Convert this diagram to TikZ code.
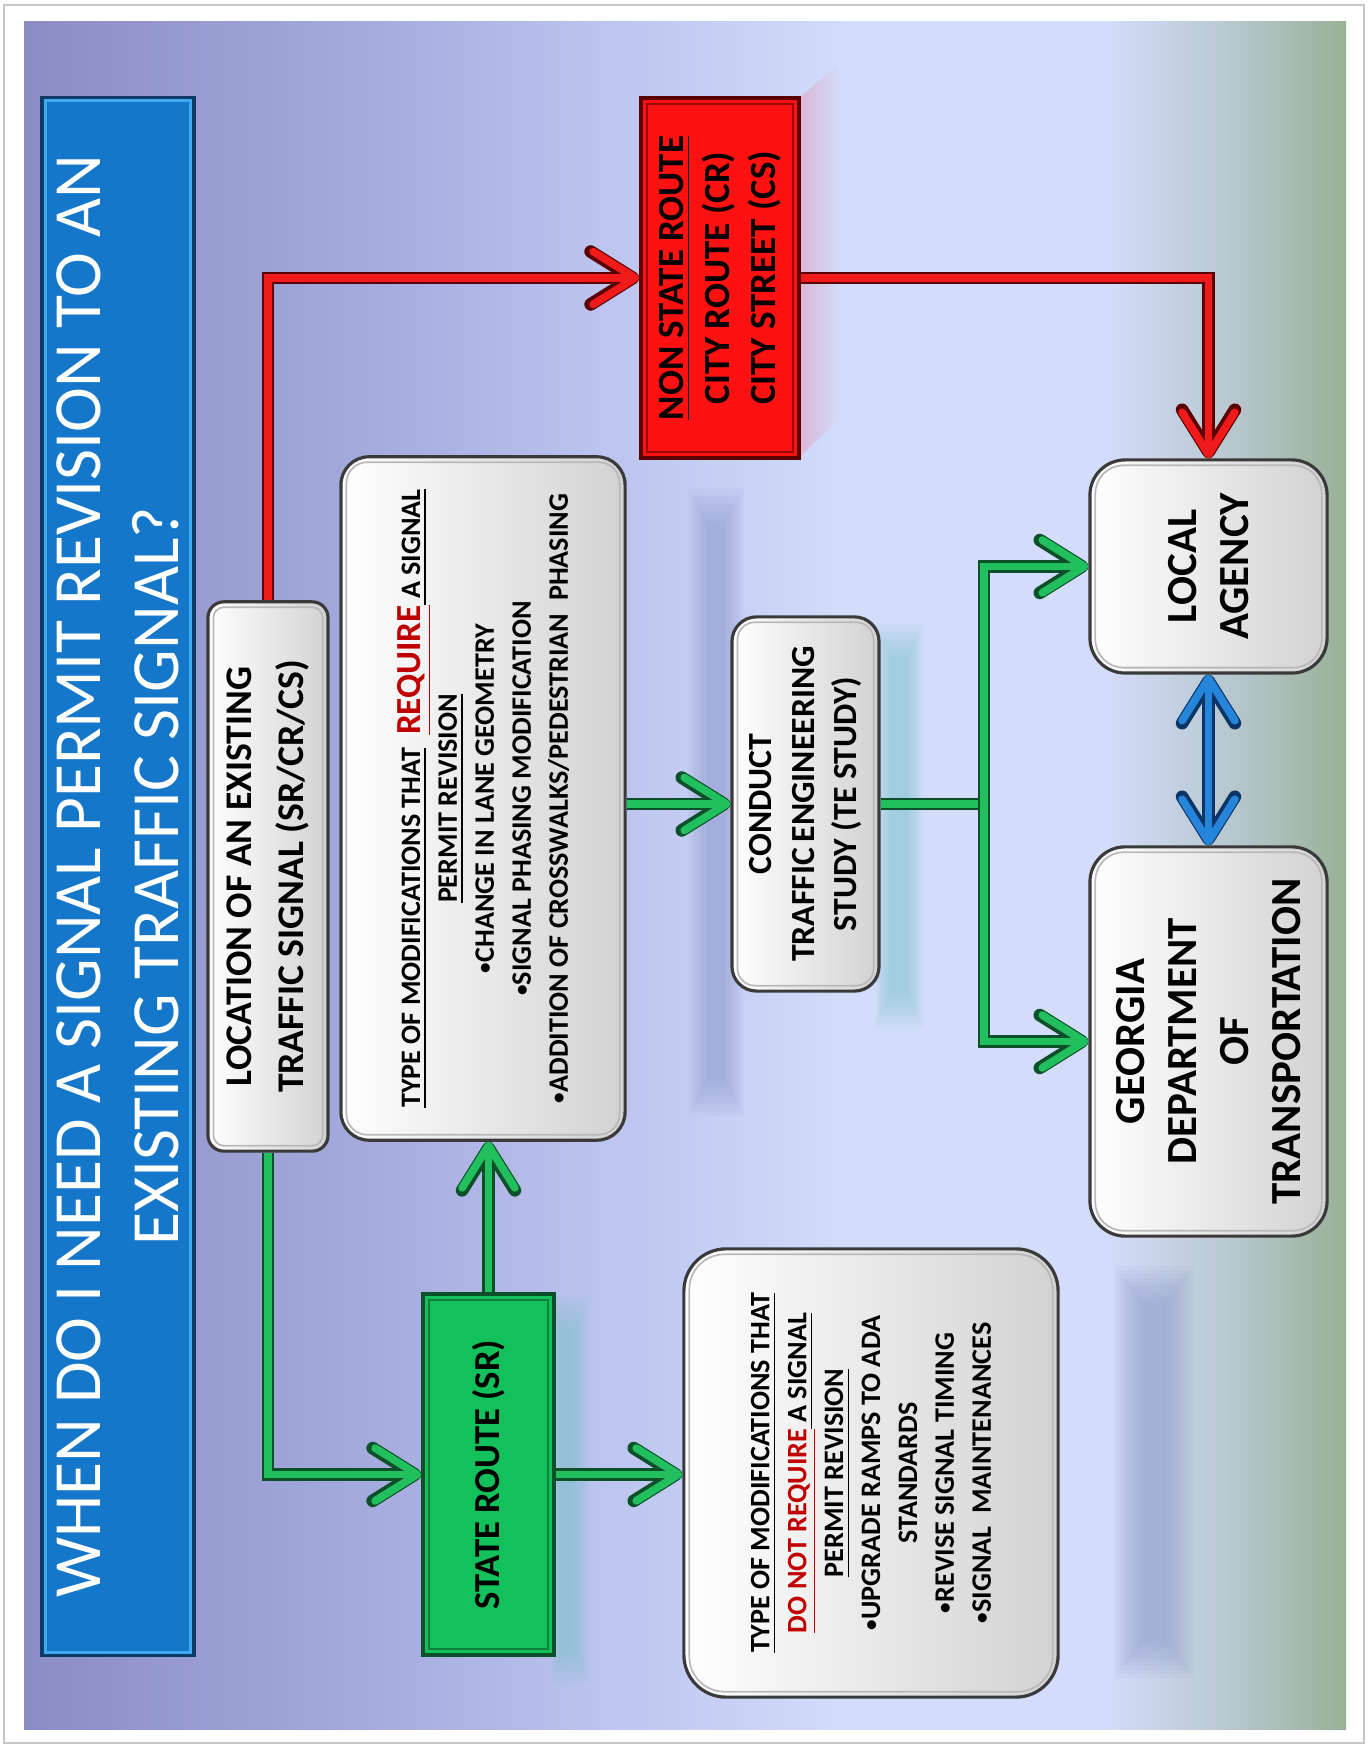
\documentclass[tikz,border=0pt]{standalone}
\usepackage{fontspec}
\setmainfont{Carlito}
\usetikzlibrary{arrows.meta,fadings}

\definecolor{bgA}{HTML}{8A8DC5}
\definecolor{bgB}{HTML}{A7ADDF}
\definecolor{bgC}{HTML}{BCC4EF}
\definecolor{bgD}{HTML}{D3DCFA}
\definecolor{bgE}{HTML}{B6C5CB}
\definecolor{bgF}{HTML}{98B196}
\definecolor{titleblue}{HTML}{1577C9}
\definecolor{titleline}{HTML}{0E3A66}
\definecolor{titlelight}{HTML}{3FAAF2}
\definecolor{boxline}{HTML}{3A3A3A}
\definecolor{boxgray}{HTML}{D2D2D2}
\definecolor{routered}{HTML}{FF1111}
\definecolor{routegreen}{HTML}{12C15C}
\definecolor{txtred}{HTML}{C00000}
\definecolor{gfill}{HTML}{22BF5E}
\definecolor{gdark}{HTML}{0B5028}
\definecolor{rfill}{HTML}{F01A1A}
\definecolor{rdark}{HTML}{5A0000}
\definecolor{bfill}{HTML}{2585DB}
\definecolor{bdark}{HTML}{0A3565}
\definecolor{shadeblue}{HTML}{8A92CA}
\definecolor{shadeteal}{HTML}{7CC6CC}
\definecolor{shadepink}{HTML}{E4A6C4}

\pgfdeclarehorizontalshading{pageshade}{100bp}{color(0bp)=(bgA); color(25bp)=(bgA); color(39bp)=(bgB); color(47bp)=(bgC); color(56bp)=(bgD); color(66bp)=(bgD); color(71bp)=(bgE); color(75bp)=(bgF); color(100bp)=(bgF)}
\tikzfading[name=fadeout, left color=transparent!35, right color=transparent!100]

\newcommand{\itembul}{{\fontsize{6}{6}\selectfont\raisebox{0.25ex}{•}}}

\tikzset{
  flowtip/.tip={Straight Barb[length=12pt,width=15pt,round]},
  whitebox/.style={draw=boxline, line width=0.9pt, left color=white, right color=boxgray, align=center, inner sep=0pt},
  whitebevel/.style={draw=gray!55, line width=0.5pt},
  titlebox/.style={draw=titleline, line width=1pt, fill=titleblue, text=white, align=center, inner sep=0pt, font=\fontsize{19.2}{22.2}\selectfont},
  redbox/.style={draw=rdark, line width=1pt, fill=routered, align=center, inner sep=0pt, font=\fontsize{10.5}{13.1}\selectfont\bfseries},
  greenbox/.style={draw=gdark, line width=1pt, fill=routegreen, align=center, inner sep=0pt, font=\fontsize{10.4}{12}\selectfont\bfseries},
  gline/.style={draw=gfill, line width=2.2pt, preaction={draw=gdark, line width=3.6pt}},
  garrow/.style={draw=gfill, line width=2.2pt, -flowtip, preaction={draw=gdark, line width=3.6pt, -flowtip}},
  rarrow/.style={draw=rfill, line width=2.2pt, -flowtip, preaction={draw=rdark, line width=3.6pt, -flowtip}},
  barrow/.style={draw=bfill, line width=2.2pt, flowtip-flowtip, preaction={draw=bdark, line width=3.6pt, flowtip-flowtip}}
}

\begin{document}
\begin{tikzpicture}[x=0.01cm, y=0.01cm]
% page and background
\useasboundingbox (0,0) rectangle (1368,1746);
\fill[white] (0,0) rectangle (1368,1746);
\draw[gray!45, line width=0.8pt] (4,3) rectangle (1364,1741);
\shade[shading=pageshade] (24,16) rectangle (1346,1724);
% soft reflections
\foreach \i in {0,...,9} {
  \fill[shadeblue, opacity=0.065] ({688+2.2*\i},{630+4*\i}) rectangle ({744-2.2*\i},{1258-4*\i});
  \fill[shadeblue, opacity=0.065] ({1114+3*\i},{68+4*\i}) rectangle ({1194-3*\i},{480-4*\i});
  \fill[shadeteal, opacity=0.075] ({875+1.8*\i},{718+4*\i}) rectangle ({923-1.8*\i},{1122-4*\i});
  \fill[shadeteal, opacity=0.075] ({552+1*\i},{62+4*\i}) rectangle ({590-2*\i},{450-4*\i});
}
\fill[shadepink, path fading=fadeout] (799,1648) -- (838,1681) -- (838,1326) -- (799,1288) -- cycle;

\begin{scope}[shift={(1368,0)}, rotate=90, transform shape]
% boxes
\node[titlebox, minimum width=15.57cm, minimum height=1.52cm] (title) at (869.5,1250)
  {WHEN DO I NEED A SIGNAL PERMIT REVISION TO AN\\EXISTING TRAFFIC SIGNAL?};
\node[whitebox, rounded corners=4.5pt, minimum width=5.49cm, minimum height=1.2cm,
  font=\fontsize{10.7}{14.8}\selectfont\bfseries] (loc) at (869.5,1100)
  {LOCATION OF AN EXISTING\\TRAFFIC SIGNAL (SR/CR/CS)};
\node[whitebox, rounded corners=8pt, minimum width=6.83cm, minimum height=2.84cm,
  font=\fontsize{8}{10.5}\selectfont\bfseries] (req) at (947.5,885)
  {\underline{TYPE OF MODIFICATIONS THAT}\ \ {\fontsize{10}{10}\selectfont\color{txtred}\underline{REQUIRE}}\underline{ A SIGNAL}\\
   \underline{PERMIT REVISION}\\
   \itembul CHANGE IN LANE GEOMETRY\\
   \itembul SIGNAL PHASING MODIFICATION\\
   \itembul ADDITION OF CROSSWALKS/PEDESTRIAN\ \ PHASING};
\node[redbox, minimum width=3.6cm, minimum height=1.58cm] (red) at (1468,648)
  {\underline{NON STATE ROUTE}\\CITY ROUTE (CR)\\CITY STREET (CS)};
\node[whitebox, rounded corners=7pt, minimum width=3.74cm, minimum height=1.47cm,
  font=\fontsize{9.6}{12}\selectfont\bfseries] (cond) at (942,562.5)
  {CONDUCT\\TRAFFIC\,ENGINEERING\\STUDY (TE STUDY)};
\node[greenbox, minimum width=3.61cm, minimum height=1.31cm] (state) at (271.5,879.5)
  {STATE ROUTE (SR)};
\node[whitebox, rounded corners=12pt, minimum width=4.48cm, minimum height=3.74cm,
  font=\fontsize{8}{10.5}\selectfont\bfseries] (notreq) at (273,497)
  {\underline{TYPE OF MODIFICATIONS THAT}\\
   {\color{txtred}\underline{DO NOT REQUIRE}}\underline{ A SIGNAL}\\
   \underline{PERMIT REVISION}\\
   \itembul UPGRADE RAMPS TO ADA\\
   STANDARDS\\
   \itembul REVISE SIGNAL TIMING\\
   \itembul SIGNAL\ \ MAINTENANCES};
\node[whitebox, rounded corners=10pt, minimum width=2.13cm, minimum height=2.37cm,
  font=\fontsize{12.2}{14.8}\selectfont\bfseries] (local) at (1179.5,159.5)
  {LOCAL\\AGENCY};
\node[whitebox, rounded corners=10pt, minimum width=3.89cm, minimum height=2.37cm,
  font=\fontsize{12.2}{14.8}\selectfont\bfseries] (gdot) at (704.5,159.5)
  {GEORGIA\\DEPARTMENT\\OF\\TRANSPORTATION};
% bevel lines
\foreach \b/\r in {loc/3pt, req/6pt, cond/5pt, notreq/10pt, local/8pt, gdot/8pt}
  \draw[whitebevel, rounded corners=\r] ([shift={(7,7)}]\b.south west) rectangle ([shift={(-7,-7)}]\b.north east);
\draw[titlelight, line width=0.8pt] ([shift={(5,5)}]title.south west) rectangle ([shift={(-5,-5)}]title.north east);
\draw[rdark!60!routered, line width=0.6pt] ([shift={(8,8)}]red.south west) rectangle ([shift={(-8,-8)}]red.north east);
\draw[gdark!60!routegreen, line width=0.6pt] ([shift={(8,8)}]state.south west) rectangle ([shift={(-8,-8)}]state.north east);
% connectors
\draw[rarrow] (loc.east) -| (red.north);
\draw[rarrow] (red.south) |- (local.east);
\draw[garrow] (loc.west) -| (state.north);
\draw[garrow] (state.east) -- (state.east -| req.west);
\draw[garrow] (state.south) -- (state.south |- notreq.north);
\draw[garrow] (cond.north |- req.south) -- (cond.north);
\coordinate (split) at (942,384);
\draw[gline] (cond.south) -- (split);
\draw[garrow] (split) -| (local.north);
\draw[garrow] (split) -| (gdot.north);
\draw[barrow] (local.west) -- (gdot.east);
\end{scope}
\end{tikzpicture}
\end{document}
